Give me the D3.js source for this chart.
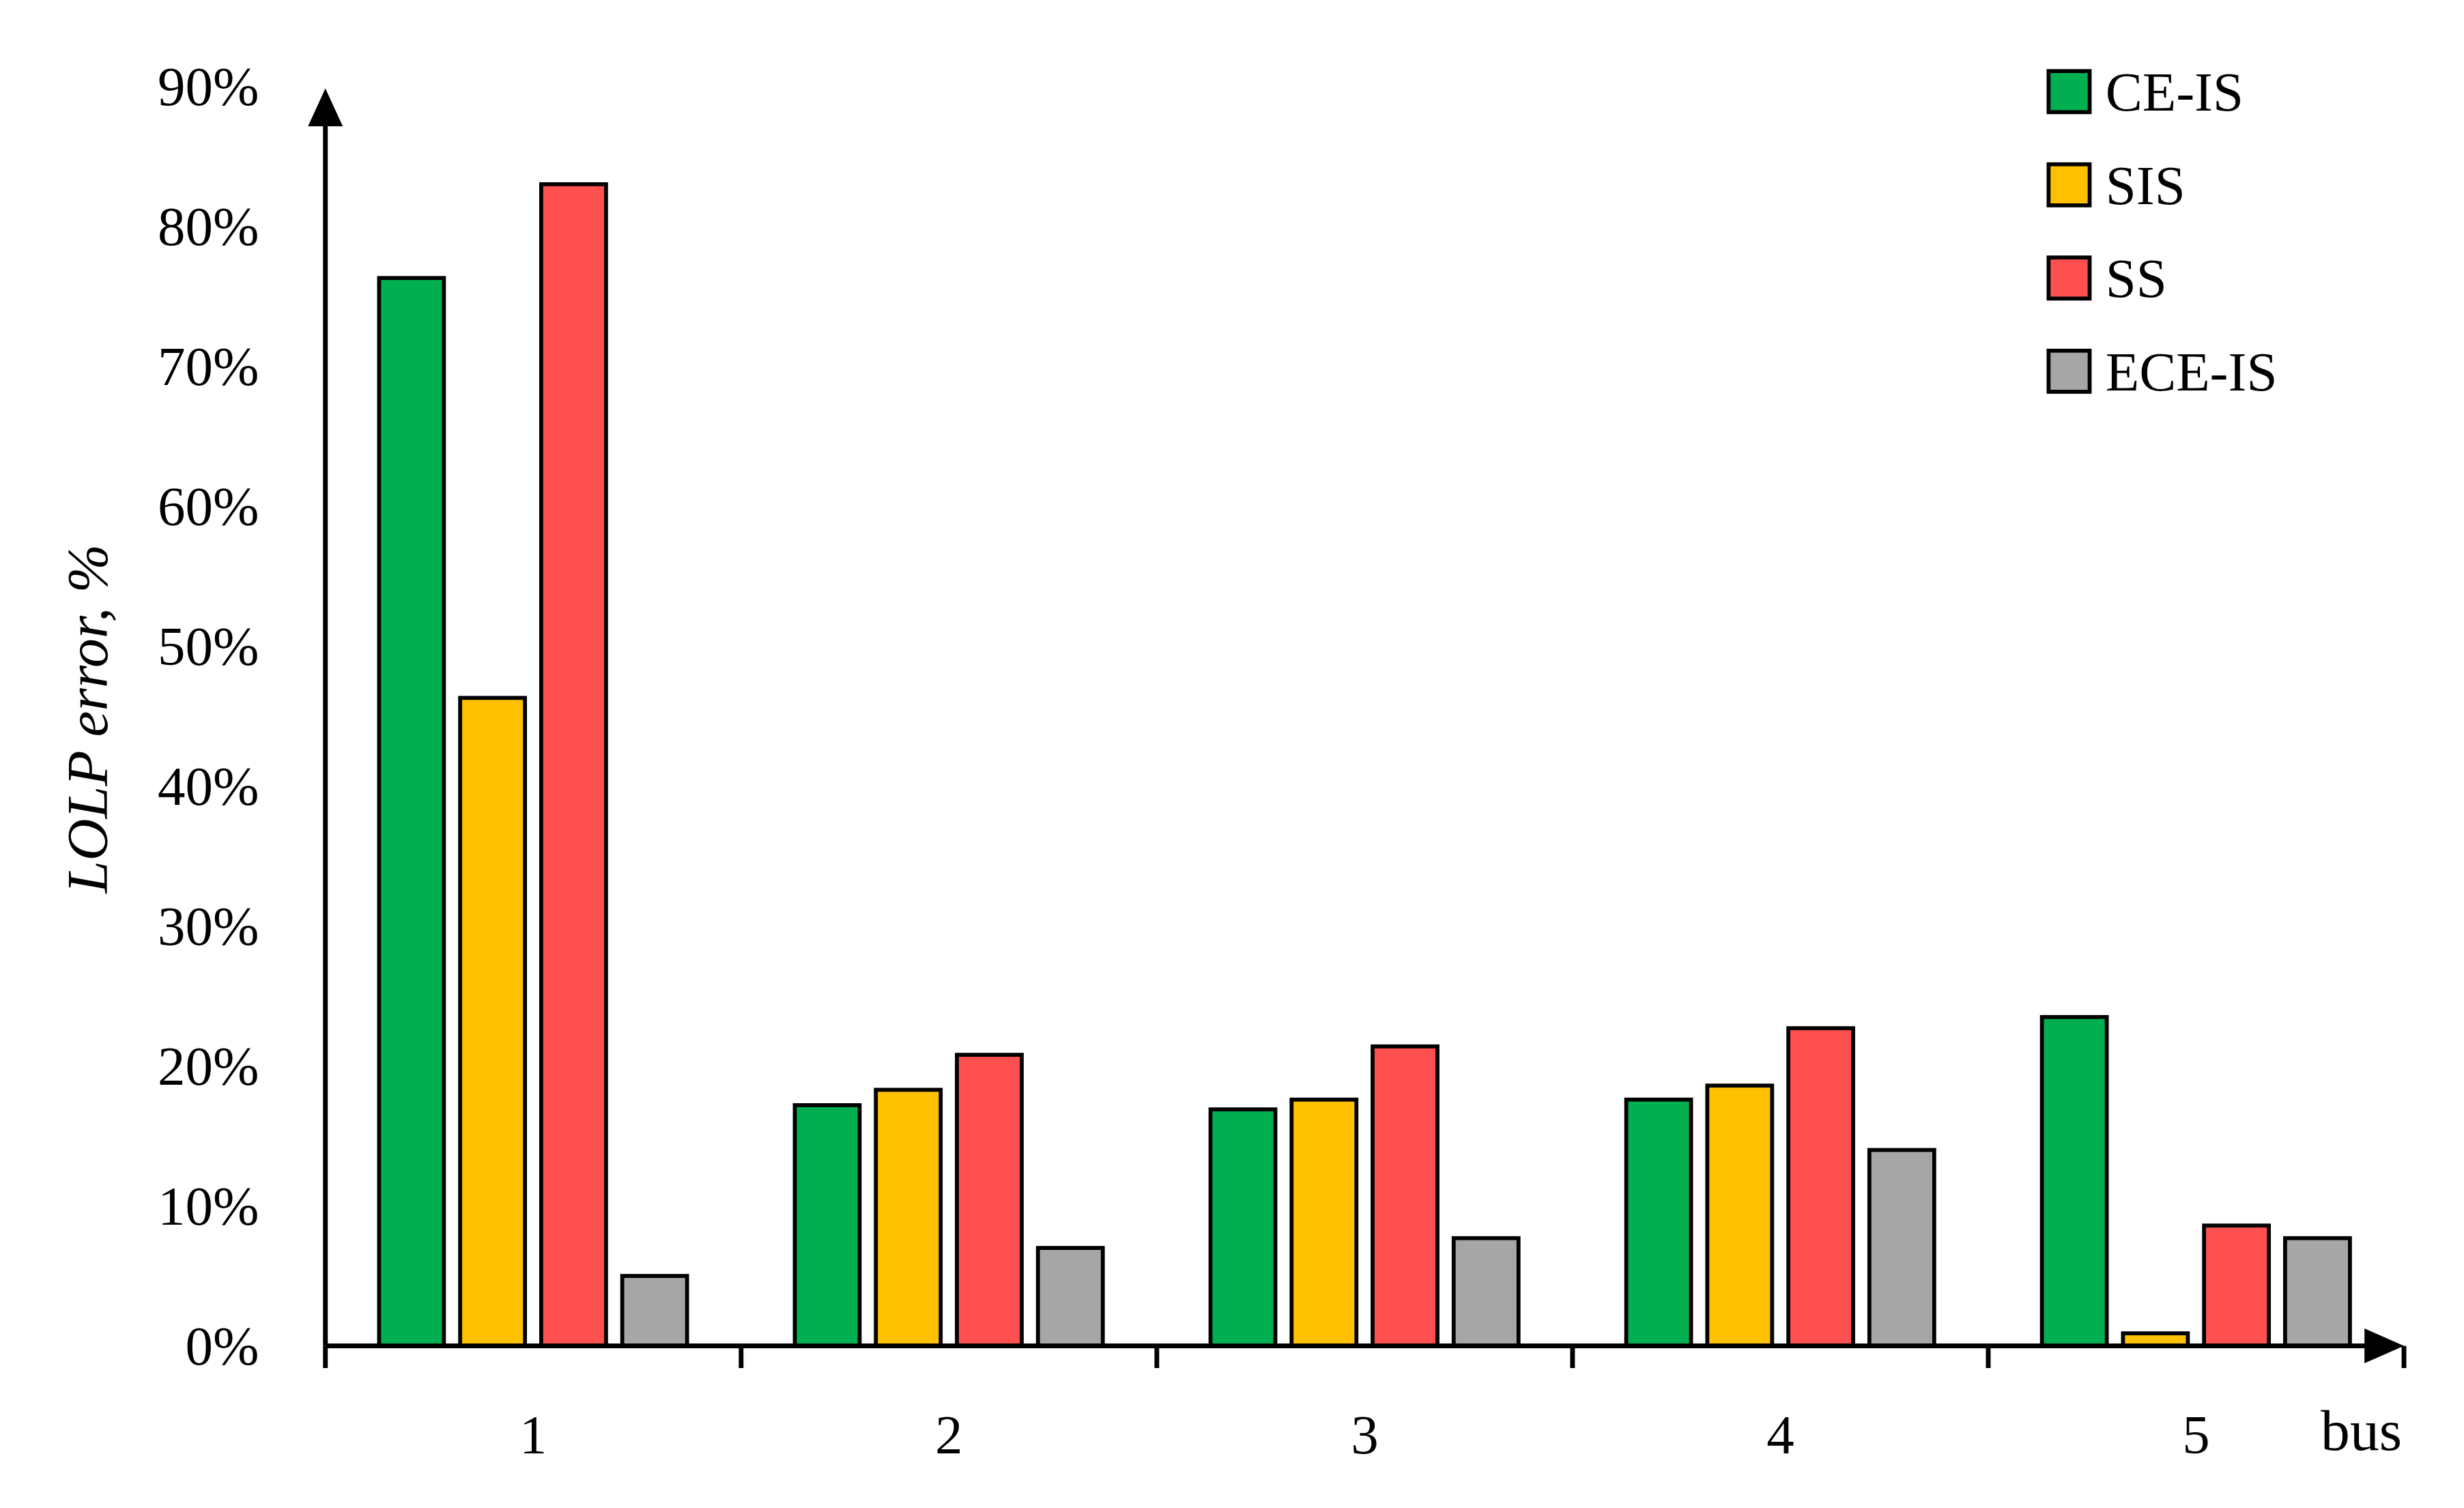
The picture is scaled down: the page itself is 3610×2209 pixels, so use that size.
<!DOCTYPE html>
<html><head><meta charset="utf-8">
<script src="https://cdn.jsdelivr.net/npm/d3@7"></script>
<style>body{margin:0;background:#fff}svg{display:block}</style>
</head><body><div id="chart"></div>
<script>
const buses = ["1", "2", "3", "4", "5"];
const seriesNames = ["CE-IS", "SIS", "SS", "ECE-IS"];
const ceis = [76.3, 17.2, 16.9, 17.6, 23.5];
const sis = [46.3, 18.3, 17.6, 18.6, 0.9];
const ss = [83.0, 20.8, 21.4, 22.7, 8.6];
const eceis = [5.0, 7.0, 7.7, 14.0, 7.7];
const yTicks = [0, 10, 20, 30, 40, 50, 60, 70, 80, 90];
const colors = ["#00B050", "#FFC000", "#FF5050", "#A6A6A6"];

const W = 1560, H = 954.6;
const font = "'Liberation Serif', 'DejaVu Serif', serif";
const svg = d3.select("#chart").append("svg")
    .attr("viewBox", `0 0 ${W} ${H}`)
    .attr("width", 3610).attr("height", 2209);

const x = d3.scaleBand().domain(buses).range([206, 1522]);
const xs = d3.scaleBand().domain(seriesNames).range([34, 229]).paddingInner(0.2);
const y = d3.scaleLinear().domain([0, 90]).range([852, 54.6]);

const data = [ceis, sis, ss, eceis];
seriesNames.forEach((s, i) => {
    svg.append("g").selectAll("rect").data(buses).enter().append("rect")
        .attr("x", (b) => x(b) + xs(s))
        .attr("y", (b, j) => y(data[i][j]))
        .attr("width", xs.bandwidth())
        .attr("height", (b, j) => y(0) - y(data[i][j]))
        .attr("fill", colors[i]).attr("stroke", "#000").attr("stroke-width", 2.5);
});

// axes
svg.append("line").attr("x1", 206).attr("x2", 206).attr("y1", 852).attr("y2", 75)
    .attr("stroke", "#000").attr("stroke-width", 3);
svg.append("path").attr("d", "M206,56 L195,80 L217,80 Z");
svg.append("line").attr("x1", 206).attr("x2", 1500).attr("y1", 852).attr("y2", 852)
    .attr("stroke", "#000").attr("stroke-width", 3);
svg.append("path").attr("d", "M1522,852 L1497,841 L1497,863 Z");
svg.append("g").selectAll("line").data(buses.concat(["end"])).enter().append("line")
    .attr("x1", (b, i) => 206 + i * x.bandwidth()).attr("x2", (b, i) => 206 + i * x.bandwidth())
    .attr("y1", 852).attr("y2", 866).attr("stroke", "#000").attr("stroke-width", 3);

svg.append("g").selectAll("text").data(yTicks).enter().append("text")
    .attr("x", 164).attr("y", (d) => y(d) + 12)
    .attr("text-anchor", "end").style("font-family", font).style("font-size", "35px")
    .text((d) => d + "%");
svg.append("g").selectAll("text").data(buses).enter().append("text")
    .attr("x", (b) => x(b) + x.bandwidth() / 2).attr("y", 920)
    .attr("text-anchor", "middle").style("font-family", font).style("font-size", "35px")
    .text((d) => d);
svg.append("text").attr("x", 1495).attr("y", 918).attr("text-anchor", "middle")
    .style("font-family", font).style("font-size", "37px").text("bus");
svg.append("text").attr("transform", "translate(68,455) rotate(-90)")
    .attr("text-anchor", "middle").style("font-family", font).style("font-size", "37px")
    .style("font-style", "italic").text("LOLP error, %");

// legend
const lg = svg.append("g").selectAll("g").data(seriesNames).enter().append("g")
    .attr("transform", (d, i) => `translate(1297,${45 + i * 59})`);
lg.append("rect").attr("width", 26).attr("height", 26)
    .attr("fill", (d, i) => colors[i]).attr("stroke", "#000").attr("stroke-width", 2.5);
lg.append("text").attr("x", 36).attr("y", 25).style("font-family", font)
    .style("font-size", "35px").text((d) => d);
</script></body></html>
